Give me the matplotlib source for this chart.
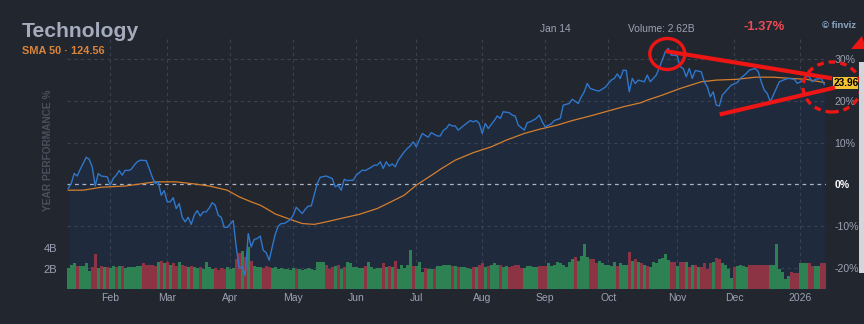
import matplotlib
matplotlib.use("Agg")
import matplotlib.pyplot as plt
import pandas as pd
from matplotlib.lines import Line2D
from matplotlib.patches import Ellipse, Rectangle, Polygon

plt.rcParams['font.family'] = ['Liberation Sans', 'DejaVu Sans']

# trading calendar, Jan 13 2025 .. Jan 14 2026
holidays = ['2025-01-20', '2025-02-17', '2025-04-18', '2025-05-26', '2025-06-19',
            '2025-07-04', '2025-09-01', '2025-11-27', '2025-12-25', '2026-01-01']
days = pd.bdate_range('2025-01-13', '2026-01-14', freq='C', holidays=holidays)

# year performance % (trading day index, value)
perf_day = [0, 1, 2, 3, 4, 5, 6, 7, 8, 9, 10, 11, 13, 14, 15, 16, 17, 18, 19, 20,
            21, 22, 23, 24, 26, 27, 28, 29, 30, 31, 32, 33, 34, 35, 36, 37, 38, 39, 40, 41,
            42, 43, 44, 45, 46, 47, 48, 49, 50, 51, 52, 53, 54, 55, 56, 57, 58, 59, 60, 61,
            62, 63, 64, 65, 66, 67, 68, 69, 70, 71, 72, 74, 75, 76, 78, 79, 80, 81, 83, 84,
            86, 88, 89, 90, 91, 92, 93, 95, 96, 98, 99, 101, 102, 103, 104, 105, 106, 107, 108, 109,
            110, 112, 113, 114, 115, 116, 118, 120, 121, 123, 124, 125, 126, 127, 128, 129, 130, 132, 134, 135,
            136, 137, 138, 139, 140, 142, 143, 144, 145, 147, 148, 149, 150, 152, 153, 154, 156, 157, 158, 159,
            161, 162, 164, 165, 167, 168, 170, 171, 172, 173, 174, 176, 177, 179, 181, 182, 183, 184, 185, 186,
            187, 188, 189, 190, 192, 193, 194, 196, 198, 199, 200, 201, 202, 203, 204, 205, 206, 207, 208, 209,
            211, 212, 213, 214, 215, 216, 217, 218, 219, 221, 222, 223, 224, 226, 227, 229, 230, 231, 232, 233,
            234, 235, 236, 237, 239, 240, 242, 243, 245, 246, 247, 248, 249, 251, 252]
perf_val = [-1.0, 0.2, 2.6, 2.0, 3.6, 5.0, 6.5, 6.0, 4.2, -0.4, 2.6, 2.0, 1.8, -0.2, 1.4, 2.2, 3.3, 2.2, 3.4, 3.3,
            3.6, 4.6, 5.4, 5.8, 5.7, 3.8, 1.8, 0.2, 0.6, -2.6, -1.5, -4.2, -4.2, -3.2, -5.8, -4.6, -7.9, -9.0, -7.9, -9.6,
            -7.4, -6.3, -7.6, -6.6, -6.6, -5.7, -4.4, -5.0, -7.4, -7.9, -10.3, -10.3, -9.5, -8.7, -15.0, -20.1, -19.8, -21.8, -11.8, -15.0,
            -13.2, -13.0, -12.4, -15.8, -16.4, -18.2, -15.0, -12.0, -10.0, -9.4, -9.4, -8.5, -7.4, -5.5, -7.0, -6.0, -5.2, -5.2, 0.2, 1.7,
            2.0, 1.4, -0.6, -0.2, -1.4, 1.2, 0.9, 1.0, 2.2, 3.4, 3.3, 4.1, 4.6, 4.6, 5.4, 3.8, 5.4, 4.4, 4.9, 4.2,
            5.8, 7.8, 8.6, 9.2, 10.2, 9.0, 12.2, 11.3, 12.4, 11.6, 11.6, 12.9, 13.4, 14.4, 14.0, 14.0, 13.0, 14.2, 15.3, 15.0,
            15.3, 14.6, 12.2, 14.6, 13.4, 15.3, 16.4, 15.8, 17.4, 17.2, 16.6, 16.4, 14.2, 13.0, 14.8, 15.0, 15.8, 16.6, 15.0, 13.8,
            14.5, 15.3, 15.8, 19.0, 19.4, 20.4, 19.4, 21.0, 22.2, 24.2, 23.0, 22.5, 22.4, 23.3, 25.0, 25.4, 26.5, 25.4, 27.4, 27.3,
            22.2, 25.4, 24.2, 25.0, 24.6, 26.2, 24.6, 26.2, 29.8, 31.8, 32.6, 31.0, 31.0, 30.8, 28.2, 27.8, 25.8, 27.8, 25.4, 27.3,
            27.0, 24.6, 23.4, 21.0, 22.2, 19.0, 18.8, 21.4, 22.2, 23.8, 24.1, 24.4, 25.4, 26.6, 27.4, 27.8, 27.0, 24.6, 22.6, 21.8,
            19.8, 21.4, 23.0, 24.6, 25.2, 25.4, 25.2, 24.2, 25.0, 26.0, 25.8, 24.6, 25.2, 25.4, 23.96]

# SMA 50 in the same % units
sma_day = [0, 5, 11, 19, 25, 29, 36, 42, 47, 53, 57, 61, 64, 66, 69, 74, 78, 82, 86, 92,
           97, 103, 107, 112, 116, 122, 124, 129, 135, 141, 146, 152, 157, 163, 168, 174, 179, 185, 191, 193,
           198, 204, 211, 216, 223, 229, 235, 241, 246, 252]
sma_val = [-1.4, -1.4, -0.7, -0.4, 0.2, 0.6, 0.6, 0.1, -0.4, -1.4, -3.0, -4.2, -5.0, -5.8, -7.1, -8.4, -9.4, -9.6, -9.0, -8.0,
           -7.2, -5.8, -4.4, -2.6, -0.2, 2.6, 3.6, 5.8, 7.6, 9.0, 10.6, 12.2, 13.2, 14.2, 15.3, 16.4, 17.4, 18.6, 19.6, 20.2,
           21.4, 23.0, 24.6, 25.0, 25.2, 25.7, 25.7, 25.4, 25.2, 24.4]

# volume in billions, one per trading day
volume = [2.1, 2.4, 2.5, 2.3, 2.3, 2.3, 2.5, 1.8, 2.2, 3.4,
          2.1, 2.3, 2.2, 2.2, 2.1, 2.3, 2.2, 2.3, 2.3, 2.1,
          2.2, 2.2, 2.2, 2.3, 2.3, 2.5, 2.4, 2.4, 2.4, 2.3,
          2.6, 2.7, 2.5, 2.6, 2.4, 2.5, 2.3, 2.6, 2.4, 2.3,
          2.2, 2.3, 2.2, 2.1, 2.2, 2.0, 2.6, 2.2, 2.0, 2.1,
          1.9, 2.1, 2.0, 2.2, 2.0, 2.1, 2.9, 3.5, 3.7, 3.1,
          4.1, 2.7, 2.3, 2.2, 2.2, 2.1, 2.3, 2.2, 2.1, 2.2,
          2.0, 2.1, 2.0, 2.0, 1.9, 2.1, 2.0, 2.0, 1.9, 2.0,
          2.1, 2.0, 1.9, 2.6, 2.6, 2.6, 2.4, 2.0, 2.2, 2.3,
          2.4, 2.0, 2.2, 2.6, 2.5, 2.2, 2.2, 2.1, 2.1, 2.3,
          2.6, 2.2, 2.0, 2.1, 2.1, 2.5, 2.2, 2.3, 2.2, 2.7,
          2.0, 2.4, 2.1, 2.4, 3.8, 2.3, 2.3, 2.6, 1.7, 2.1,
          2.0, 2.0, 2.0, 2.3, 2.3, 2.4, 2.4, 2.4, 2.3, 2.3,
          2.2, 2.2, 2.2, 2.1, 2.0, 2.2, 2.2, 2.4, 2.5, 2.2,
          2.3, 2.4, 2.5, 2.4, 2.4, 2.2, 2.3, 2.2, 2.3, 2.4,
          2.4, 2.1, 2.1, 2.3, 2.3, 2.2, 2.2, 2.3, 2.3, 2.3,
          2.5, 2.3, 2.4, 2.6, 2.5, 2.4, 2.2, 2.6, 2.9, 3.1,
          2.7, 3.2, 4.4, 3.1, 2.9, 2.9, 2.5, 2.7, 2.5, 2.4,
          2.4, 2.3, 2.6, 2.3, 2.5, 2.4, 2.4, 3.6, 2.7, 2.9,
          2.6, 2.5, 2.4, 2.3, 2.2, 2.6, 2.5, 2.9, 3.0, 3.4,
          2.8, 2.6, 2.6, 2.3, 2.6, 2.6, 2.6, 2.2, 2.4, 2.4,
          2.2, 2.2, 2.5, 2.0, 2.5, 2.6, 3.0, 2.9, 2.5, 2.4,
          2.0, 1.1, 2.2, 2.3, 2.4, 2.3, 2.2, 2.4, 2.4, 2.4,
          2.4, 2.4, 2.4, 2.4, 2.4, 2.4, 4.4, 2.0, 1.7, 1.0,
          1.3, 1.7, 1.6, 1.6, 2.5, 2.5, 2.5, 2.5, 2.3, 2.3,
          2.3, 2.5, 2.5]
# G = up day, R = down day
vol_dir = ("GGGRGGGGRR" "GRGRGGRGRG" "GGGGGRRRRR" "GRGRGRRGRR" "GRGGRGGGGR"
           "RRRGGGRRGR" "GRGGGRRRGG" "GGGGGGRGGG" "GGGGGGRRRG" "RGRGGGGGGR"
           "GGGGGRGRGR" "GGGGGRGGGR" "GGRGGGGGRG" "RGGGGRGRRG" "RGGGRGGRRR"
           "RRGGGGGRRR" "GGGGGGGGGR" "GGGGRRRGGG" "GGGRGGGRGR" "GRGRGGGGGG"
           "GRRGRRGRGR" "GRRRRGRRGG" "GGRGGGGRRR" "RRRRGGGGGG" "GRRRGGGRRG"
           "GRR")

BG = '#22262f'
FILL = '#1f2a3c'
GRID = '#3b4150'
TXT = '#9aa2b3'
GREEN = '#2e8152'
RED = '#8d3444'

W, H = 864, 324
fig = plt.figure(figsize=(8.64, 3.24), dpi=100, facecolor=BG)
ax = fig.add_axes([66.7 / W, 1 - 289 / H, (825.8 - 66.7) / W, (289 - 38) / H])
ax.set_facecolor(BG)
for s in ax.spines.values():
    s.set_visible(False)
ax.set_xlim(-0.5, 252.5)
ax.set_ylim(-25.1, 35.1)

ax.fill_between(perf_day, perf_val, -25.1, color=FILL, lw=0)

# month ticks at the first trading day of each month
month_idx, month_lab = [], []
for i in range(1, len(days)):
    if days[i].month != days[i - 1].month:
        month_idx.append(i)
        month_lab.append(str(days[i].year) if days[i].month == 1 else days[i].strftime('%b'))

for t in month_idx:
    ax.axvline(t, color=GRID, lw=0.8, ls=(0, (3, 3)), zorder=1)
for y in [30, 20, 10, -10, -20]:
    ax.axhline(y, color=GRID, lw=0.8, ls=(0, (3, 3)), zorder=1)
ax.axhline(0, color='#aab4c8', lw=0.9, ls=(0, (3, 3)), zorder=2)

# volume layer
axv = ax.twinx()
for s in axv.spines.values():
    s.set_visible(False)
axv.set_ylim(0, 24.6)
axv.bar(range(len(volume)), volume, width=1.0, lw=0,
        color=[GREEN if c == 'G' else RED for c in vol_dir])

# lines layer
axl = ax.twinx()
axl.set_ylim(ax.get_ylim())
axl.axis('off')
axl.plot(sma_day, sma_val, color='#d47f2e', lw=0.9)
axl.plot(perf_day, perf_val, color='#2f77cc', lw=1.0)

# ticks (after twinx, which moves the host ticks)
ax.set_xticks(month_idx)
ax.set_xticklabels(month_lab)
ax.tick_params(axis='x', length=0, pad=3, labelsize=7.5, labelcolor=TXT)
ax.yaxis.tick_right()
ticks = [30, 20, 10, 0, -10, -20]
ax.set_yticks(ticks)
ax.set_yticklabels([f'{t}%' for t in ticks])
ax.tick_params(axis='y', length=0, pad=6, labelsize=7.6, labelcolor=TXT)
for lab in ax.get_yticklabels():
    if lab.get_text() == '0%':
        lab.set_color('white')
        lab.set_fontweight('bold')

axv.yaxis.tick_left()
axv.set_yticks([2, 4])
axv.set_yticklabels(['2B', '4B'])
axv.tick_params(axis='y', length=0, pad=7, labelsize=8, labelcolor=TXT)

fig.text(48 / W, 1 - 150 / H, 'YEAR PERFORMANCE %', rotation=90, ha='center', va='center',
         fontsize=7.3, fontweight='bold', color='#4a505c')

# header
fig.text(22 / W, 1 - 37 / H, 'Technology', fontsize=15.2, fontweight='bold', color='#a3abbd', va='baseline')
fig.text(22 / W, 1 - 54 / H, 'SMA 50 \u00b7 124.56', fontsize=7.9, fontweight='bold', color='#d9843a', va='baseline')
fig.text(571 / W, 1 - 28.5 / H, 'Jan 14', fontsize=7.4, color=TXT, ha='right', va='center')
fig.text(628 / W, 1 - 28.5 / H, 'Volume: 2.62B', fontsize=7.4, color=TXT, va='center')
fig.text(744 / W, 1 - 27.5 / H, '-1.37%', fontsize=9.4, fontweight='bold', color='#ef4b55', va='center')
fig.text(822 / W, 1 - 25.5 / H, '\u00a9 finviz', fontsize=6.8, fontweight='bold', color='#8aa6c4', va='center')


def fp(x, y):
    return x / W, 1 - y / H


# last value tag
fig.add_artist(Rectangle(fp(833, 89.3), 25 / W, 12 / H, transform=fig.transFigure,
                         color='#f3c232', lw=0, zorder=5))
fig.text(834 / W, 1 - 83.5 / H, '23.96', fontsize=7.3, fontweight='bold', color='black',
         va='center', zorder=6)

# hand-drawn red markup
RED_MARK = '#ee1515'
fig.add_artist(Ellipse(fp(667.3, 54), 35 / W, 31 / H, transform=fig.transFigure,
                       fill=False, ec=RED_MARK, lw=2.4, zorder=7))
fig.add_artist(Line2D(*zip(fp(668, 51.5), fp(830, 78)), transform=fig.transFigure,
                      color=RED_MARK, lw=3, zorder=7))
fig.add_artist(Line2D(*zip(fp(721.7, 114), fp(833, 88)), transform=fig.transFigure,
                      color=RED_MARK, lw=3, zorder=7))
fig.add_artist(Ellipse(fp(832, 87), 58 / W, 50 / H, transform=fig.transFigure,
                       fill=False, ec=RED_MARK, lw=2.4, ls=(0, (2, 1.5)), zorder=7))
fig.add_artist(Polygon([fp(851, 49), fp(862, 36), fp(866, 49)], closed=True,
                       transform=fig.transFigure, color=RED_MARK, lw=0, zorder=7))

# scrollbar strip at the right edge
fig.add_artist(Rectangle(fp(858.5, 273), 6 / W, 211 / H, transform=fig.transFigure,
                         color='#d3d5da', lw=0, zorder=8))

fig.savefig('out.png', dpi=100, facecolor=BG)
